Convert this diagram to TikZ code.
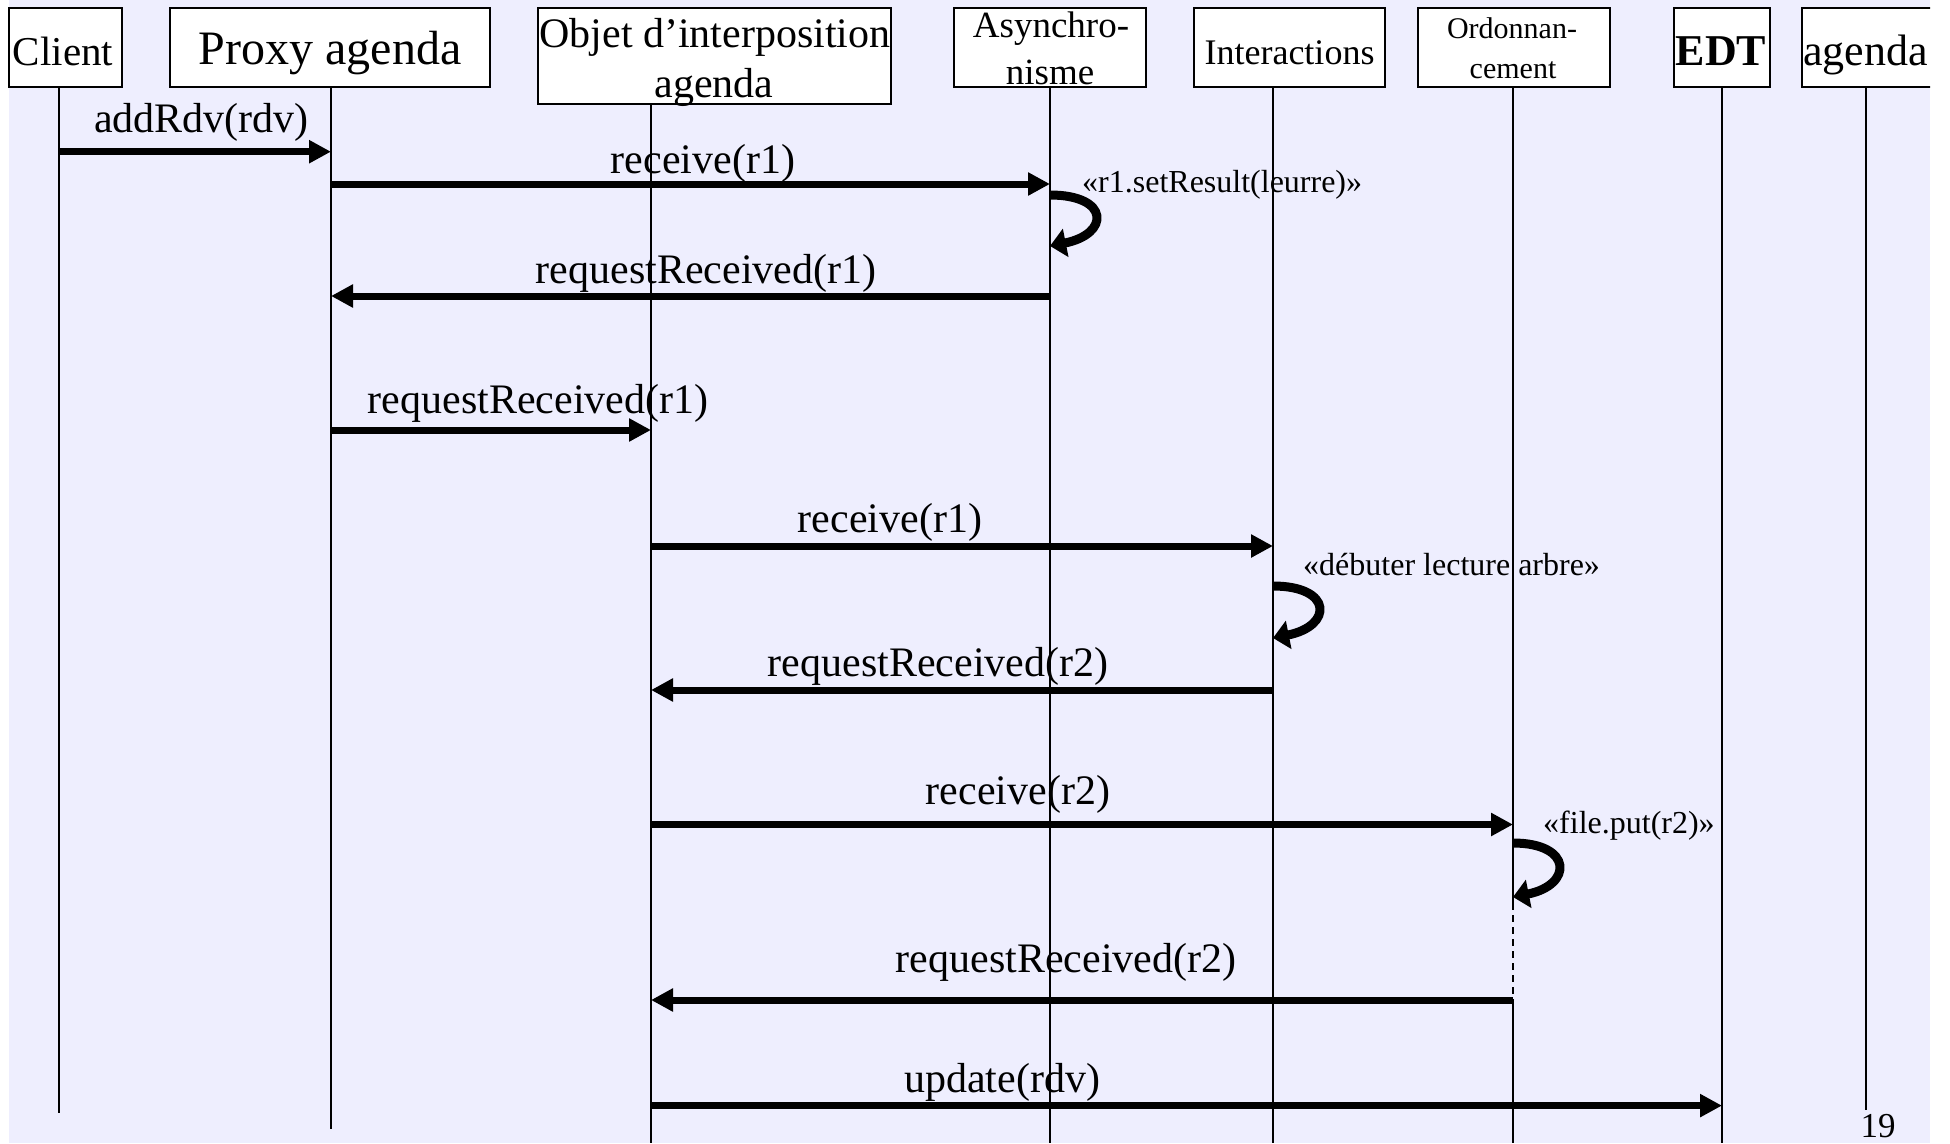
\documentclass[tikz,border=0pt]{standalone}
\usepackage{fontspec}
\setmainfont{Liberation Serif}
\usetikzlibrary{arrows.meta}
\definecolor{slidebg}{RGB}{238,238,254}
\newcommand{\pxfont}[2]{\fontsize{#1}{#2}\selectfont}
\begin{document}
\begin{tikzpicture}[x=1pt,y=-1pt,
  objbox/.style={draw, line width=2pt, fill=white, inner sep=0pt, minimum height=79pt},
  boxtext/.style={anchor=base, inner sep=0pt},
  lifeline/.style={line width=2pt},
  msg/.style={line width=7pt, -{Triangle[length=22pt,width=22pt]}},
  selfmsg/.style={line width=9pt, -{Triangle[length=16pt,width=28pt]}},
  msglabel/.style={font=\pxfont{42}{50}, anchor=base, inner sep=0pt},
  notelabel/.style={font=\pxfont{32}{38}, anchor=base west, inner sep=0pt}]

\useasboundingbox (0,0) rectangle (1950,1143);
\fill[slidebg] (9,0) rectangle (1930,1143);

% lifelines
\coordinate (clT) at (59,87);    \coordinate (clB) at (59,1113);
\coordinate (prT) at (331,87);   \coordinate (prB) at (331,1129);
\coordinate (obT) at (651,104);  \coordinate (obB) at (651,1143);
\coordinate (asT) at (1050,87);  \coordinate (asB) at (1050,1143);
\coordinate (inT) at (1273,87);  \coordinate (inB) at (1273,1143);
\coordinate (orT) at (1513,87);  \coordinate (orD1) at (1513,903);
\coordinate (orD2) at (1513,1000); \coordinate (orB) at (1513,1143);
\coordinate (edT) at (1722,87);  \coordinate (edB) at (1722,1143);
\coordinate (agT) at (1866,87);  \coordinate (agB) at (1866,1110);

\draw[lifeline] (clT) -- (clB);
\draw[lifeline] (prT) -- (prB);
\draw[lifeline] (obT) -- (obB);
\draw[lifeline] (asT) -- (asB);
\draw[lifeline] (inT) -- (inB);
\draw[lifeline] (orT) -- (orD1);
\draw[lifeline, line width=1.6pt, dash pattern=on 7pt off 5pt] (orD1) -- (orD2);
\draw[lifeline] (orD2) -- (orB);
\draw[lifeline] (edT) -- (edB);
\draw[lifeline] (agT) -- (agB);

% object boxes
\node[objbox, minimum width=113pt] (client) at (65.5,47.5) {};
\node[boxtext, font=\pxfont{41}{49}] (clienttxt) at (63,65) {Client};

\node[objbox, minimum width=320pt] (proxy) at (330,47.5) {};
\node[boxtext, font=\pxfont{48}{56}] (proxytxt) at (330,64) {Proxy agenda};

\node[objbox, minimum width=353pt, minimum height=96pt] (objet) at (714.5,56) {};
\node[boxtext, font=\pxfont{42}{50}] (objettxtA) at (715,47) {Objet d’interposition};
\node[boxtext, font=\pxfont{42}{50}] (objettxtB) at (714,97) {agenda};

\node[objbox, minimum width=192pt] (async) at (1050,47.5) {};
\node[boxtext, font=\pxfont{37}{46}] (asynctxtA) at (1051,37) {Asynchro-};
\node[boxtext, font=\pxfont{37}{46}] (asynctxtB) at (1050,84) {nisme};

\node[objbox, minimum width=191pt] (inter) at (1289.5,47.5) {};
\node[boxtext, font=\pxfont{36}{44}] (intertxt) at (1289.5,64) {Interactions};

\node[objbox, minimum width=192pt] (ordo) at (1514,47.5) {};
\node[boxtext, font=\pxfont{30}{39}] (ordotxtA) at (1512,38) {Ordonnan-};
\node[boxtext, font=\pxfont{30}{39}] (ordotxtB) at (1513,78) {cement};

\node[objbox, minimum width=96pt] (edt) at (1722,47.5) {};
\node[boxtext, font=\pxfont{44}{52}\bfseries] (edttxt) at (1721,65) {EDT};

\begin{scope}
  \clip (9,0) rectangle (1930,1143);
  \node[objbox, minimum width=158pt] (agbox) at (1881,47.5) {};
  \node[font=\pxfont{44}{52}, anchor=base west, inner sep=0pt] (agtxt) at (1803,65) {agenda};
\end{scope}

% messages
\coordinate (m1s) at (59,151.7);   \coordinate (m1e) at (331,151.7);
\coordinate (m2s) at (331,184);    \coordinate (m2e) at (1050,184);
\coordinate (m3s) at (1050,296);   \coordinate (m3e) at (331,296);
\coordinate (m4s) at (331,430);    \coordinate (m4e) at (651,430);
\coordinate (m5s) at (651,546);    \coordinate (m5e) at (1273,546);
\coordinate (m6s) at (1273,690);   \coordinate (m6e) at (651,690);
\coordinate (m7s) at (651,824.5);  \coordinate (m7e) at (1513,824.5);
\coordinate (m8s) at (1513,1000);  \coordinate (m8e) at (651,1000);
\coordinate (m9s) at (651,1105.6); \coordinate (m9e) at (1722,1105.6);

\draw[msg] (m1s) -- (m1e);
\draw[msg] (m2s) -- (m2e);
\draw[msg] (m3s) -- (m3e);
\draw[msg] (m4s) -- (m4e);
\draw[msg] (m5s) -- (m5e);
\draw[msg] (m6s) -- (m6e);
\draw[msg] (m7s) -- (m7e);
\draw[msg] (m8s) -- (m8e);
\draw[msg] (m9s) -- (m9e);

\node[msglabel] (l1) at (201.5,132) {addRdv(rdv)};
\node[msglabel] (l2) at (703,173) {receive(r1)};
\node[msglabel] (l3) at (706,283.5) {requestReceived(r1)};
\node[msglabel] (l4) at (538,413) {requestReceived(r1)};
\node[msglabel] (l5) at (890,532) {receive(r1)};
\node[msglabel] (l6) at (938,676.5) {requestReceived(r2)};
\node[msglabel] (l7) at (1018,804.5) {receive(r2)};
\node[msglabel] (l8) at (1066,972.5) {requestReceived(r2)};
\node[msglabel] (l9) at (1002,1092) {update(rdv)};

% self calls
\coordinate (s1a) at (1050,195); \coordinate (s1b) at (1050,246);
\coordinate (s2a) at (1273,586); \coordinate (s2b) at (1273,638);
\coordinate (s3a) at (1513,843); \coordinate (s3b) at (1513,897);
\draw[selfmsg] (s1a) .. controls +(60,0) and +(60,-12) .. (s1b);
\draw[selfmsg] (s2a) .. controls +(60,0) and +(60,-12) .. (s2b);
\draw[selfmsg] (s3a) .. controls +(60,0) and +(60,-12) .. (s3b);

\node[notelabel] (n1) at (1082,192) {«r1.setResult(leurre)»};
\node[notelabel] (n2) at (1303,575) {«débuter lecture arbre»};
\node[notelabel] (n3) at (1543,833) {«file.put(r2)»};

\node[font=\pxfont{35}{35}, anchor=base, inner sep=0pt] (pagenum) at (1878,1137) {19};
\end{tikzpicture}
\end{document}
